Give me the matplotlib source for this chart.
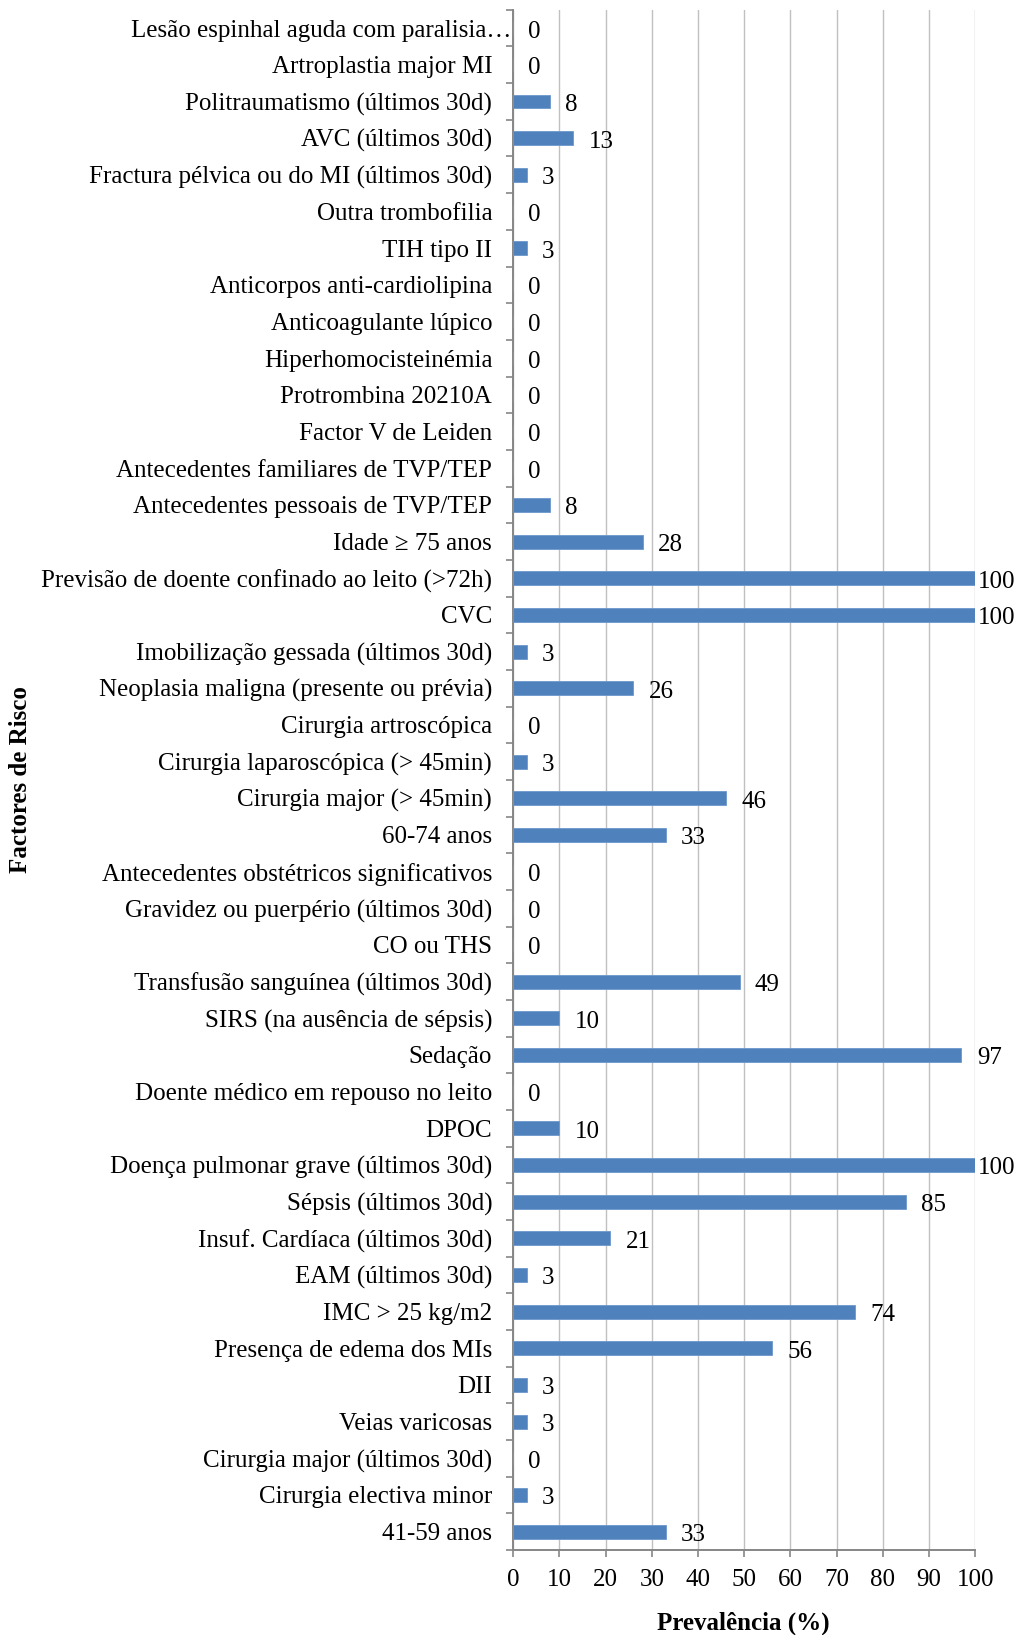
import matplotlib
matplotlib.use("Agg")
import matplotlib.pyplot as plt
import matplotlib.transforms as mtransforms
import numpy as np

plt.rcParams['font.family'] = ['Liberation Serif', 'DejaVu Serif']

# Risk factors, listed top to bottom
factors = [
    "Lesão espinhal aguda com paralisia…",
    "Artroplastia major MI",
    "Politraumatismo (últimos 30d)",
    "AVC (últimos 30d)",
    "Fractura pélvica ou do MI (últimos 30d)",
    "Outra trombofilia",
    "TIH tipo II",
    "Anticorpos anti-cardiolipina",
    "Anticoagulante lúpico",
    "Hiperhomocisteinémia",
    "Protrombina 20210A",
    "Factor V de Leiden",
    "Antecedentes familiares de TVP/TEP",
    "Antecedentes pessoais de TVP/TEP",
    "Idade ≥ 75 anos",
    "Previsão de doente confinado ao leito (>72h)",
    "CVC",
    "Imobilização gessada (últimos 30d)",
    "Neoplasia maligna (presente ou prévia)",
    "Cirurgia artroscópica",
    "Cirurgia laparoscópica (> 45min)",
    "Cirurgia major (> 45min)",
    "60-74 anos",
    "Antecedentes obstétricos significativos",
    "Gravidez ou puerpério (últimos 30d)",
    "CO ou THS",
    "Transfusão sanguínea (últimos 30d)",
    "SIRS (na ausência de sépsis)",
    "Sedação",
    "Doente médico em repouso no leito",
    "DPOC",
    "Doença pulmonar grave (últimos 30d)",
    "Sépsis (últimos 30d)",
    "Insuf. Cardíaca (últimos 30d)",
    "EAM (últimos 30d)",
    "IMC > 25 kg/m2",
    "Presença de edema dos MIs",
    "DII",
    "Veias varicosas",
    "Cirurgia major (últimos 30d)",
    "Cirurgia electiva minor",
    "41-59 anos",
]
prevalence = [0, 0, 8, 13, 3, 0, 3, 0, 0, 0, 0, 0, 0, 8, 28, 100, 100, 3, 26, 0,
              3, 46, 33, 0, 0, 0, 49, 10, 97, 0, 10, 100, 85, 21, 3, 74, 56, 3, 3, 0,
              3, 33]
x_ticks = list(range(0, 101, 10))

BAR_COLOR = "#4F81BD"
AXIS_GRAY = "#868686"
GRID_GRAY = "#C0C0C0"
FS = 18

fig = plt.figure(figsize=(10.16, 16.35), dpi=100)
ax = fig.add_axes([0.505, 0.052, 0.455, 0.942])

n = len(factors)
y = np.arange(n)
ax.barh(y, prevalence, height=0.38, color=BAR_COLOR, edgecolor="#6C97CC",
        linewidth=0.6, zorder=3)

# value labels just past the bar end; full-width bars keep the label at the edge
for yi, v in zip(y, prevalence):
    off = 2 if v >= 100 else 11
    ax.annotate(str(v), (v, yi), xytext=(off, -2.5), textcoords="offset points",
                ha="left", va="center", fontsize=FS, annotation_clip=False)

ax.set_xlim(0, 100)
ax.set_ylim(n - 0.5, -0.5)
ax.set_xticks(x_ticks)
ax.set_xticklabels([str(t) for t in x_ticks], fontsize=FS)
ax.set_yticks(y)
ax.set_yticklabels(factors, fontsize=FS)
ax.set_yticks(np.arange(-0.5, n, 1.0), minor=True)

ax.tick_params(axis="y", which="major", length=0, pad=15)
ax.tick_params(axis="y", which="minor", length=5, width=1.2, color=AXIS_GRAY,
               direction="out")
ax.tick_params(axis="x", which="major", length=5, width=1.2, color=AXIS_GRAY,
               direction="out", pad=9)

# the truncated first label runs up to the axis line
first = ax.get_yticklabels()[0]
first.set_transform(first.get_transform() +
                    mtransforms.ScaledTranslation(14 / 72, 0, fig.dpi_scale_trans))

ax.grid(axis="x", color=GRID_GRAY, linewidth=1.0, zorder=0)
ax.set_axisbelow(True)
for side in ("top", "right"):
    ax.spines[side].set_visible(False)
for side in ("left", "bottom"):
    ax.spines[side].set_color(AXIS_GRAY)
    ax.spines[side].set_linewidth(1.4)

fig.text(0.732, 0.0, "Prevalência (%)", ha="center", va="bottom",
         fontsize=FS, fontweight="bold")
fig.text(0.02, 0.523, "Factores de Risco", ha="center", va="center",
         rotation=90, fontsize=FS, fontweight="bold")

fig.savefig("out.png", dpi=100)
